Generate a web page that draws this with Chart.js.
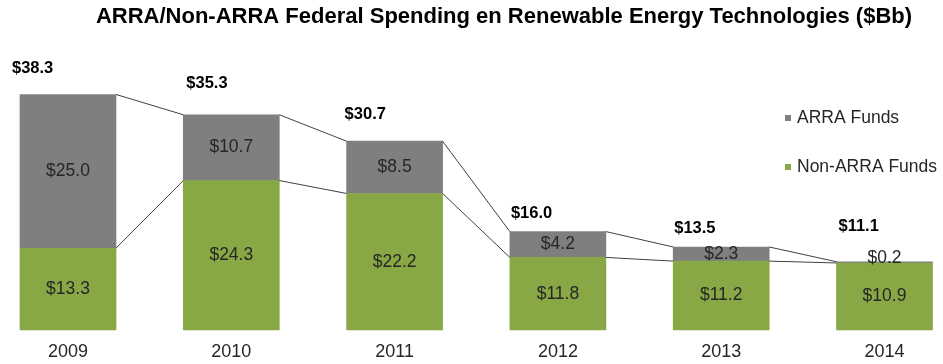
<!DOCTYPE html>
<html>
<head>
<meta charset="utf-8">
<script src="https://cdn.jsdelivr.net/npm/chart.js@4"></script>
<style>
  html, body { margin: 0; padding: 0; background: #fff; }
  #wrap { width: 943px; height: 364px; }
</style>
</head>
<body>
<div id="wrap"><canvas id="spending"></canvas></div>
<script>
// ===== data ($ billions) =====
const years = ["2009", "2010", "2011", "2012", "2013", "2014"];
const nonArraFunds = [13.3, 24.3, 22.2, 11.8, 11.2, 10.9];
const arraFunds = [25.0, 10.7, 8.5, 4.2, 2.3, 0.2];
const totals = [38.3, 35.3, 30.7, 16.0, 13.5, 11.1];

// nudges for the bold total labels, relative to each bar's top-left corner
const totalNudge = [[-8, -26], [3, -31], [-2, -27], [1, -18], [1, -19], [2, -35]];

const GRAY = "#7f7f7f";
const GREEN = "#88a846";
const FONT = "'Liberation Sans', Arial, sans-serif";

const money = v => "$" + v.toFixed(1);

// connectors, segment values, totals, legend and title
const decorations = {
  id: "decorations",
  afterDatasetsDraw(chart) {
    const ctx = chart.ctx;
    const low = chart.getDatasetMeta(0).data;
    const high = chart.getDatasetMeta(1).data;

    ctx.save();

    // connector lines between neighbouring bars
    ctx.strokeStyle = "#404040";
    ctx.lineWidth = 1;
    for (let i = 0; i < low.length - 1; i++) {
      [low, high].forEach(bars => {
        const a = bars[i], b = bars[i + 1];
        ctx.beginPath();
        ctx.moveTo(a.x + a.width / 2, a.y);
        ctx.lineTo(b.x - b.width / 2, b.y);
        ctx.stroke();
      });
    }

    // values inside each segment
    ctx.font = "17.5px " + FONT;
    ctx.fillStyle = "#262626";
    ctx.textAlign = "center";
    ctx.textBaseline = "middle";
    [[low, nonArraFunds], [high, arraFunds]].forEach(([bars, vals]) => {
      bars.forEach((bar, i) => {
        let y = (bar.y + bar.base) / 2;
        if (bar.base - bar.y < 4) y = bar.y - 4;
        ctx.fillText(money(vals[i]), bar.x, y);
      });
    });

    // totals above the bars
    ctx.font = "bold 16.5px " + FONT;
    ctx.fillStyle = "#000";
    ctx.textAlign = "left";
    high.forEach((bar, i) => {
      const [dx, dy] = totalNudge[i];
      ctx.fillText(money(totals[i]), bar.x - bar.width / 2 + dx, bar.y + dy);
    });

    // legend
    const legend = [["ARRA Funds", GRAY, 118], ["Non-ARRA Funds", GREEN, 167]];
    ctx.font = "17.5px " + FONT;
    legend.forEach(([label, color, y]) => {
      ctx.fillStyle = color;
      ctx.fillRect(785, y - 3, 6, 6);
      ctx.fillStyle = "#262626";
      ctx.fillText(label, 797, y);
    });

    // title
    ctx.font = "bold 22px " + FONT;
    ctx.fillStyle = "#000";
    ctx.textAlign = "center";
    ctx.fillText("ARRA/Non-ARRA Federal Spending en Renewable Energy Technologies ($Bb)", 504, 17);

    ctx.restore();
  }
};

new Chart(document.getElementById("spending"), {
  type: "bar",
  data: {
    labels: years,
    datasets: [
      { label: "Non-ARRA Funds", data: nonArraFunds, backgroundColor: GREEN, clip: false },
      { label: "ARRA Funds", data: arraFunds, backgroundColor: GRAY, clip: false }
    ]
  },
  options: {
    responsive: true,
    maintainAspectRatio: false,
    animation: false,
    barThickness: 96,
    layout: { padding: { top: 84, left: 68, right: 58.5, bottom: 3 } },
    plugins: {
      legend: { display: false },
      title: { display: false },
      tooltip: { enabled: false }
    },
    scales: {
      x: {
        stacked: true,
        offset: false,
        grid: { display: false, drawTicks: false },
        border: { display: false },
        ticks: { color: "#262626", padding: 11, font: { family: FONT, size: 18 } },
        afterFit(scale) { scale.height = 31; }
      },
      y: {
        stacked: true,
        display: false,
        min: 0,
        max: 40
      }
    }
  },
  plugins: [decorations]
});
</script>
</body>
</html>
